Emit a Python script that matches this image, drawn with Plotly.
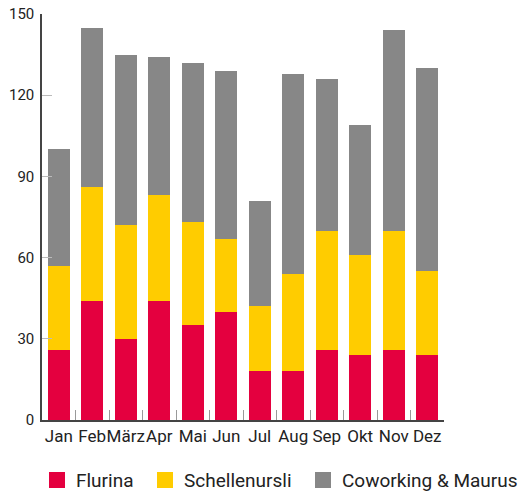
import plotly.graph_objects as go

months = ["Jan", "Feb", "März", "Apr", "Mai", "Jun", "Jul", "Aug", "Sep", "Okt", "Nov", "Dez"]
flurina = [26, 44, 30, 44, 35, 40, 18, 18, 26, 24, 26, 24]
schellenursli = [31, 42, 42, 39, 38, 27, 24, 36, 44, 37, 44, 31]
coworking = [43, 59, 63, 51, 59, 62, 39, 74, 56, 48, 74, 75]
y_ticks = [0, 30, 60, 90, 120, 150]
series = ["Flurina", "Schellenursli", "Coworking & Maurus"]

RED = "#E4003F"
YEL = "#FFCC00"
GRY = "#878787"
INK = "#222222"
FONT = "Roboto, Arial, sans-serif"
COLORS = [RED, YEL, GRY]

# page body has an 8px margin, so the figure is 8px smaller than the window
W, H = 520, 484
L, R, T, B = 34, 84, 6, 72
PW, PH = W - L - R, H - T - B

def px(x):  # figure pixel -> paper x
    return (x - L) / PW

def py(y):  # figure pixel -> paper y
    return (H - B - y) / PH

fig = go.Figure()
for name, vals, col in zip(series, [flurina, schellenursli, coworking], COLORS):
    fig.add_trace(go.Bar(x=months, y=vals, name=name, marker_color=col,
                         marker_line_width=0, hoverinfo="y+name", showlegend=False))

# hand-made legend row under the axis (bigger swatches than plotly's own)
leg_x = [41, 149, 307]
for x0, name, col in zip(leg_x, series, COLORS):
    fig.add_shape(type="rect", xref="paper", yref="paper",
                  x0=px(x0), x1=px(x0 + 16), y0=py(480), y1=py(464),
                  fillcolor=col, line_width=0)
    fig.add_annotation(text=name, xref="paper", yref="paper", x=px(x0 + 25), y=py(472),
                       xanchor="left", yanchor="middle", showarrow=False,
                       font=dict(size=19, color=INK))

fig.update_xaxes(showline=True, linecolor="#444444", linewidth=1.5,
                 ticks="inside", tickson="boundaries", ticklen=10, tickcolor="#999999",
                 tickangle=0, tickfont=dict(size=17, color=INK), showgrid=False)
fig.update_yaxes(range=[0, 150], tickvals=y_ticks, showline=True, linecolor="#444444",
                 linewidth=1.5, ticks="inside", ticklen=10, tickcolor="#bbbbbb",
                 ticklabelstandoff=3, ticklabeloverflow="allow",
                 tickfont=dict(size=15, color=INK), showgrid=False, zeroline=False)

fig.update_layout(
    barmode="stack", bargap=0.35,
    width=W, height=H,
    paper_bgcolor="white", plot_bgcolor="white",
    font=dict(family=FONT, color=INK),
    margin=dict(l=L, r=R, t=T, b=B, autoexpand=False),
    showlegend=False,
)

fig.write_html("out.html")
